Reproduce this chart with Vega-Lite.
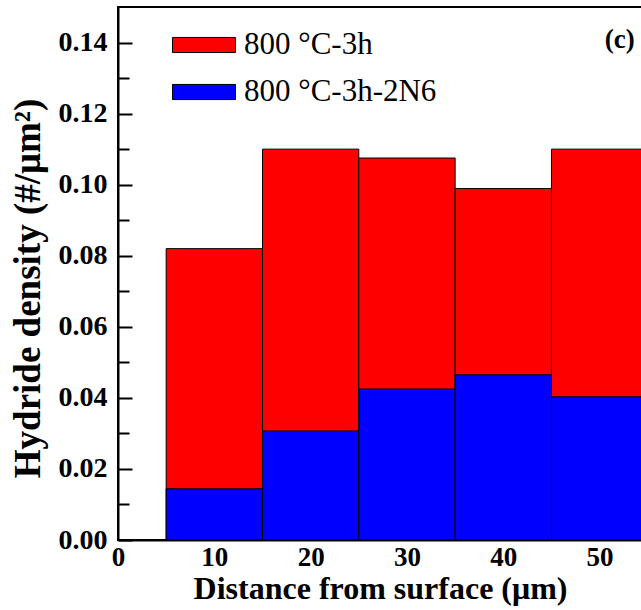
{
  "$schema": "https://vega.github.io/schema/vega-lite/v6.json",
  "width": 524,
  "height": 533,
  "autosize": "none",
  "padding": {"left": 118, "top": 7, "right": 0, "bottom": 70},
  "background": "white",
  "config": {
    "view": {"stroke": "black", "strokeWidth": 2},
    "font": "Liberation Serif"
  },
  "datasets": {
    "bars": [
      {"series": "800 °C-3h", "x0": 5, "x1": 15, "density": 0.082},
      {"series": "800 °C-3h", "x0": 15, "x1": 25, "density": 0.110},
      {"series": "800 °C-3h", "x0": 25, "x1": 35, "density": 0.1075},
      {"series": "800 °C-3h", "x0": 35, "x1": 45, "density": 0.0989},
      {"series": "800 °C-3h", "x0": 45, "x1": 55, "density": 0.110},
      {"series": "800 °C-3h-2N6", "x0": 5, "x1": 15, "density": 0.0144},
      {"series": "800 °C-3h-2N6", "x0": 15, "x1": 25, "density": 0.0307},
      {"series": "800 °C-3h-2N6", "x0": 25, "x1": 35, "density": 0.0425},
      {"series": "800 °C-3h-2N6", "x0": 35, "x1": 45, "density": 0.0465},
      {"series": "800 °C-3h-2N6", "x0": 45, "x1": 55, "density": 0.0403}
    ]
  },
  "resolve": {"axis": {"y": "independent"}},
  "layer": [
    {
      "data": {"name": "bars"},
      "mark": {"type": "bar", "stroke": "black", "strokeWidth": 1, "clip": true},
      "encoding": {
        "x": {
          "field": "x0", "type": "quantitative",
          "scale": {"domain": [0, 54.4], "nice": false, "zero": false},
          "axis": {
            "title": "Distance from surface (μm)",
            "values": [0, 10, 20, 30, 40, 50],
            "format": "d",
            "grid": false,
            "ticks": false,
            "domainColor": "black", "domainWidth": 2,
            "labelFont": "Liberation Serif", "labelFontWeight": "bold", "labelFontSize": 27, "labelColor": "black",
            "labelPadding": 4, "labelFlush": false,
            "titleFont": "Liberation Serif", "titleFontWeight": "bold", "titleFontSize": 32, "titleColor": "black",
            "titlePadding": 3
          }
        },
        "x2": {"field": "x1"},
        "y": {
          "field": "density", "type": "quantitative",
          "scale": {"domain": [0, 0.15], "nice": false},
          "axis": {
            "orient": "left",
            "title": "Hydride density (#/μm²)",
            "values": [0, 0.02, 0.04, 0.06, 0.08, 0.10, 0.12, 0.14],
            "format": ".2f",
            "grid": false,
            "ticks": false,
            "domainColor": "black", "domainWidth": 2,
            "labelFont": "Liberation Serif", "labelFontWeight": "bold", "labelFontSize": 28, "labelColor": "black",
            "labelPadding": 11, "labelFlush": false,
            "titleFont": "Liberation Serif", "titleFontWeight": "bold", "titleFontSize": 37, "titleColor": "black",
            "titlePadding": 11,
            "titleY": 281
          }
        },
        "y2": {"datum": 0},
        "color": {
          "field": "series", "type": "nominal",
          "scale": {"domain": ["800 °C-3h", "800 °C-3h-2N6"], "range": ["#ff0000", "#0000ff"]},
          "legend": {
            "title": null,
            "orient": "none",
            "legendX": 54,
            "legendY": 6,
            "symbolType": "M-1,-0.24H1V0.24H-1Z",
            "symbolSize": 3969,
            "symbolStrokeColor": "black",
            "symbolStrokeWidth": 1,
            "rowPadding": -20,
            "labelOffset": 8,
            "labelFont": "Liberation Serif",
            "labelFontSize": 31,
            "labelColor": "black",
            "labelLimit": 400,
            "padding": 0
          }
        }
      }
    },
    {
      "data": {"values": [{}]},
      "mark": {"type": "text", "text": "(c)", "font": "Liberation Serif", "fontWeight": "bold", "fontSize": 27, "align": "center", "baseline": "middle", "color": "black"},
      "encoding": {
        "x": {"datum": 52.1, "type": "quantitative"},
        "y": {
          "datum": 0.1408, "type": "quantitative",
          "axis": {
            "orient": "left",
            "offset": -14,
            "values": [0, 0.02, 0.04, 0.06, 0.08, 0.10, 0.12, 0.14],
            "labels": false, "domain": false, "grid": false, "title": null,
            "ticks": true, "tickSize": 14, "tickWidth": 2, "tickColor": "black"
          }
        }
      }
    },
    {
      "data": {"values": [{}]},
      "mark": {"type": "text", "text": "", "color": "black"},
      "encoding": {
        "x": {"datum": 1, "type": "quantitative"},
        "y": {
          "datum": 0, "type": "quantitative",
          "axis": {
            "orient": "left",
            "offset": -11,
            "values": [0.01, 0.03, 0.05, 0.07, 0.09, 0.11, 0.13],
            "labels": false, "domain": false, "grid": false, "title": null,
            "ticks": true, "tickSize": 11, "tickWidth": 2, "tickColor": "black"
          }
        }
      }
    }
  ]
}
